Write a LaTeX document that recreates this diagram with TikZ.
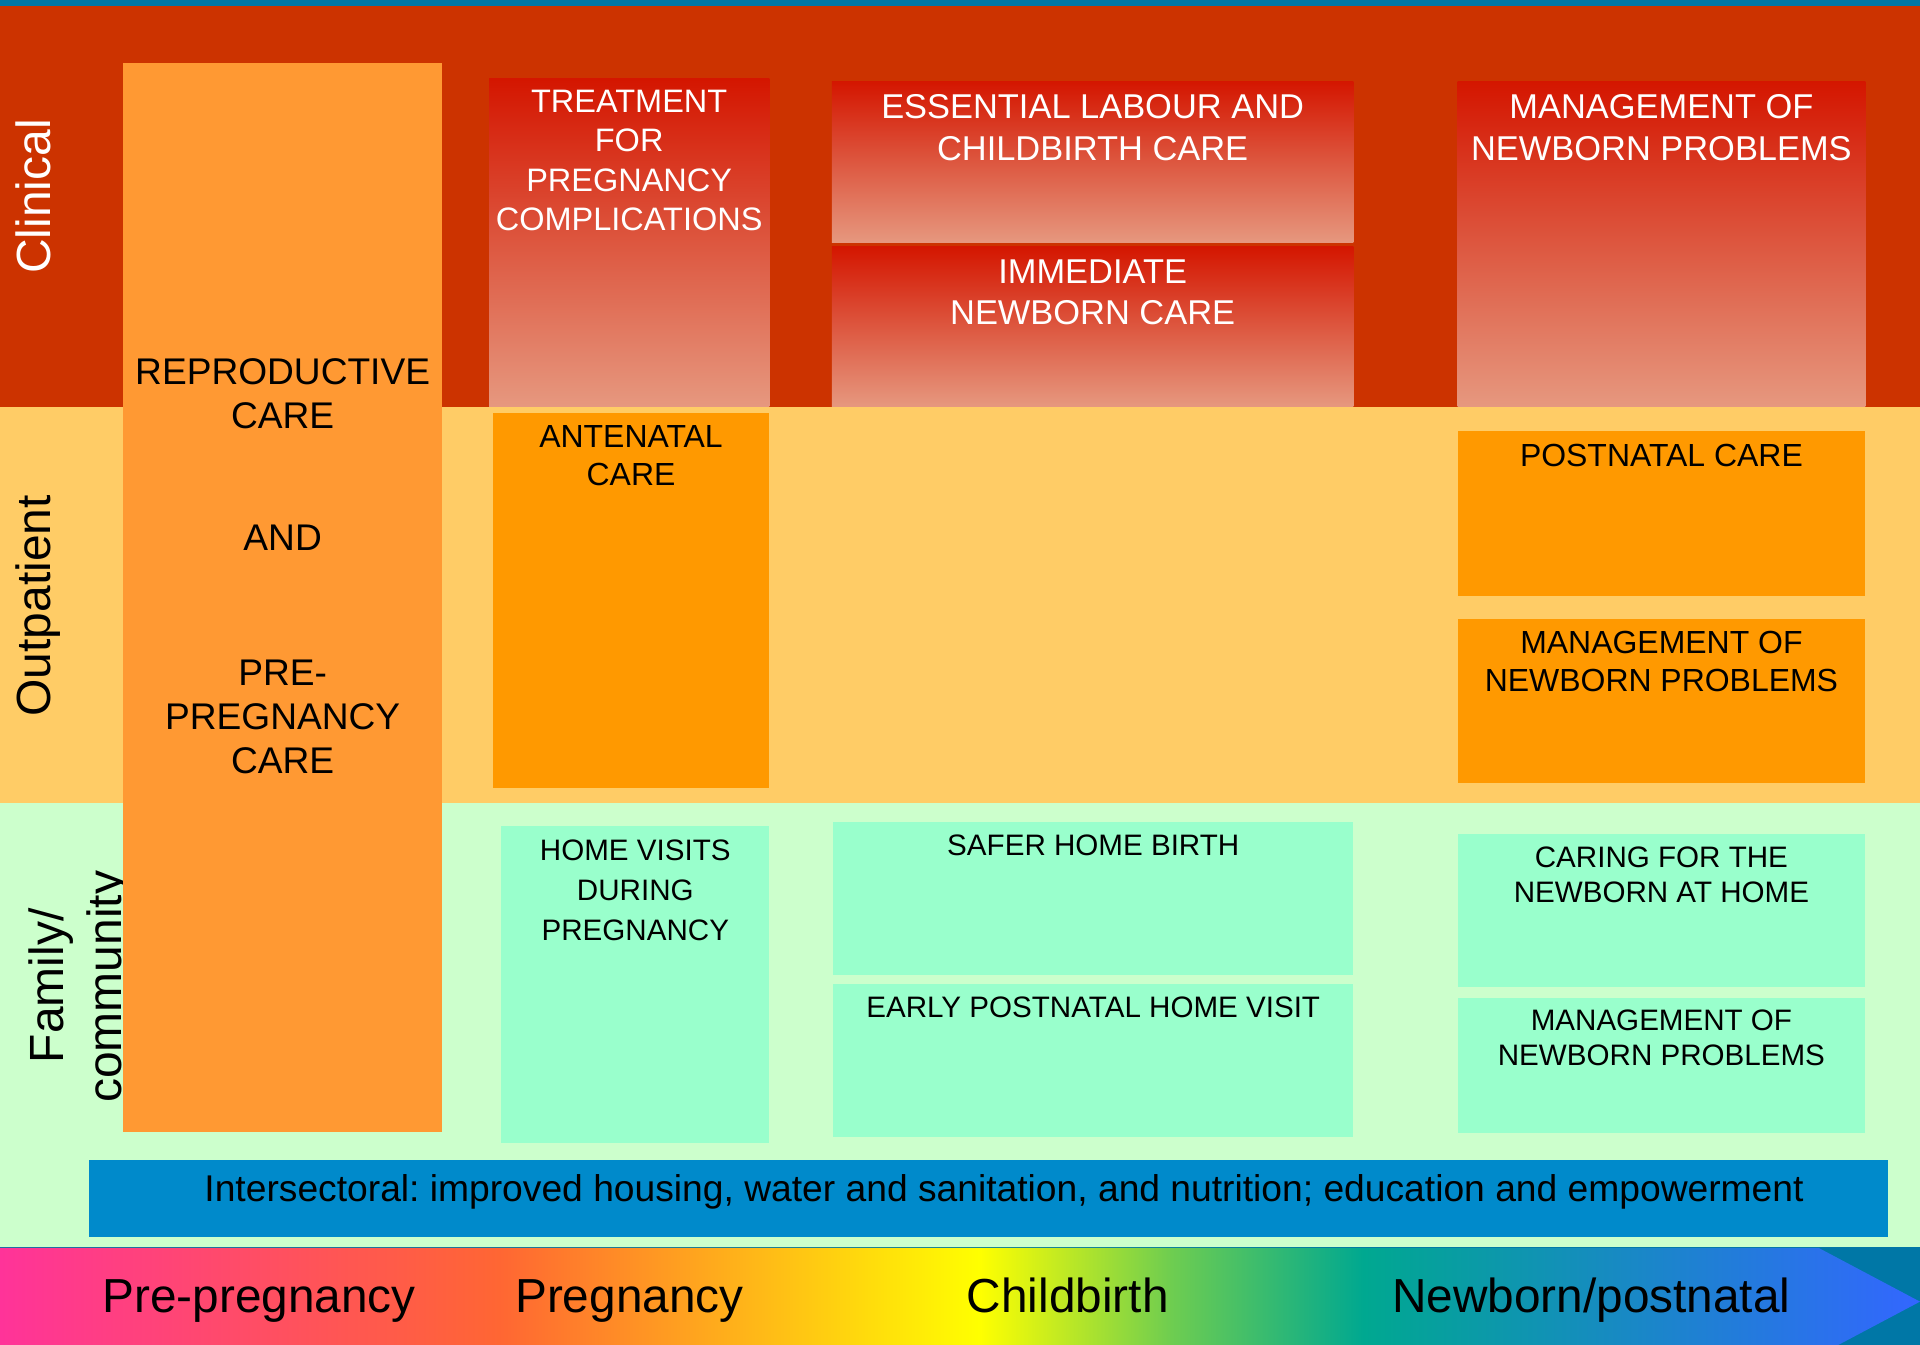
\documentclass[tikz,border=0pt]{standalone}
\usepackage{fontspec}
\setmainfont{Liberation Sans}
\usetikzlibrary{positioning}

\definecolor{slidebg}{RGB}{0,119,166}
\definecolor{clinband}{RGB}{204,51,0}
\definecolor{outband}{RGB}{255,204,102}
\definecolor{famband}{RGB}{204,255,204}
\definecolor{reproorange}{RGB}{255,153,51}
\definecolor{boxorange}{RGB}{255,153,0}
\definecolor{boxgreen}{RGB}{153,255,204}
\definecolor{redtop}{RGB}{212,22,0}
\definecolor{redbot}{RGB}{230,152,127}
\definecolor{interblue}{RGB}{0,138,203}
\definecolor{specpink}{RGB}{255,51,153}
\definecolor{specorange}{RGB}{255,102,51}
\definecolor{specyellow}{RGB}{255,255,0}
\definecolor{specgreen}{RGB}{110,205,80}
\definecolor{specteal}{RGB}{0,168,144}
\definecolor{specblue}{RGB}{51,102,255}

\pgfdeclarehorizontalshading{spectrum}{100bp}{color(0bp)=(specpink); color(25bp)=(specpink);
  color(38bp)=(specorange); color(50.5bp)=(specyellow); color(55.5bp)=(specgreen);
  color(60.5bp)=(specteal); color(75bp)=(specblue); color(100bp)=(specblue)}

\begin{document}
\begin{tikzpicture}[x=0.02cm,y=-0.02cm,
	box/.style={rectangle,draw=none,anchor=north west,inner sep=0pt},
	redbox/.style={box,top color=redtop,bottom color=redbot},
	orgbox/.style={box,fill=boxorange},
	grnbox/.style={box,fill=boxgreen},
	txt/.style={inner sep=0pt,align=center},
	redtxt/.style={txt,text=white,font=\fontsize{16pt}{19.2pt}\selectfont},
	orgtxt/.style={txt,font=\fontsize{14.85pt}{17.6pt}\selectfont},
	grntxt/.style={txt,font=\fontsize{13.75pt}{16pt}\selectfont},
	side/.style={inner sep=0pt,rotate=90,anchor=base,font=\fontsize{22.3pt}{26pt}\selectfont},
	phase/.style={inner sep=0pt,anchor=base,font=\fontsize{22.2pt}{26pt}\selectfont}]
	
	\useasboundingbox (0,0) rectangle (1568,1098);
	\clip (0,0) rectangle (1568,1098);
	
	% bands
	\fill[slidebg] (0,0) rectangle (1568,1098);
	\fill[clinband] (0,4.6) rectangle (1568,332);
	\fill[outband] (0,332) rectangle (1568,656);
	\fill[famband] (0,656) rectangle (1568,1018);
	\shade[shading=spectrum] (0,1019) -- (1485,1019) -- (1568,1063) -- (1485,1107) -- (0,1107) -- cycle;
	
	\node[side,text=white] (clin) at (41.4,160.4) {Clinical};
	\node[side] (outp) at (41.4,494.8) {Outpatient};
	\node[side] (fam) at (51.7,805) {Family/};
	\node[side] (comm) at (99.4,806) {community};
	
	% pre-pregnancy column
	\node[box,fill=reproorange,minimum width=5.22cm,minimum height=17.46cm] (repro) at (100,51) {};
	\node[txt,below=4.83cm of repro.north,font=\fontsize{17.25pt}{20.5pt}\selectfont] (reprotxt)
	{REPRODUCTIVE\\CARE\\[36pt]AND\\[42.4pt]PRE-\\PREGNANCY\\CARE};
	
	% pregnancy column
	\node[redbox,minimum width=4.58cm,minimum height=5.36cm] (treat) at (399,64) {};
	\node[redtxt,below=0.19cm of treat.north,font=\fontsize{15.1pt}{18.2pt}\selectfont] (treattxt)
	{TREATMENT\\FOR\\PREGNANCY\\COMPLICATIONS};
	\node[orgbox,minimum width=4.52cm,minimum height=6.12cm] (ante) at (402,337) {};
	\node[orgtxt,below=0.2cm of ante.north] (antetxt) {ANTENATAL\\CARE};
	\node[grnbox,minimum width=4.38cm,minimum height=5.18cm] (visit) at (409,674) {};
	\node[grntxt,below=0.23cm of visit.north,font=\fontsize{13.75pt}{18.5pt}\selectfont] (visittxt)
	{HOME VISITS\\DURING\\PREGNANCY};
	
	% childbirth column
	\node[redbox,minimum width=8.52cm,minimum height=2.64cm] (labour) at (679,66) {};
	\node[redtxt,below=0.22cm of labour.north] (labourtxt) {ESSENTIAL LABOUR AND\\CHILDBIRTH CARE};
	\node[redbox,minimum width=8.52cm,minimum height=2.62cm] (immed) at (679,201) {};
	\node[redtxt,below=0.21cm of immed.north] (immedtxt) {IMMEDIATE\\NEWBORN CARE};
	\node[grnbox,minimum width=8.5cm,minimum height=2.5cm] (safer) at (680,671) {};
	\node[grntxt,below=0.21cm of safer.north] (safertxt) {SAFER HOME BIRTH};
	\node[grnbox,minimum width=8.5cm,minimum height=2.5cm] (early) at (680,803) {};
	\node[grntxt,below=0.21cm of early.north] (earlytxt) {EARLY POSTNATAL HOME VISIT};
	
	% newborn column
	\node[redbox,minimum width=6.66cm,minimum height=5.32cm] (mgclin) at (1190,66) {};
	\node[redtxt,below=0.22cm of mgclin.north] (mgclintxt) {MANAGEMENT OF\\NEWBORN PROBLEMS};
	\node[orgbox,minimum width=6.66cm,minimum height=2.68cm] (post) at (1190,352) {};
	\node[orgtxt,below=0.2cm of post.north] (posttxt) {POSTNATAL CARE};
	\node[orgbox,minimum width=6.66cm,minimum height=2.68cm] (mgout) at (1190,505) {};
	\node[orgtxt,below=0.2cm of mgout.north] (mgouttxt) {MANAGEMENT OF\\NEWBORN PROBLEMS};
	\node[grnbox,minimum width=6.66cm,minimum height=2.5cm] (caring) at (1190,681) {};
	\node[grntxt,below=0.21cm of caring.north] (caringtxt) {CARING FOR THE\\NEWBORN AT HOME};
	\node[grnbox,minimum width=6.66cm,minimum height=2.2cm] (mgfam) at (1190,815) {};
	\node[grntxt,below=0.19cm of mgfam.north] (mgfamtxt) {MANAGEMENT OF\\NEWBORN PROBLEMS};
	
	% intersectoral bar
	\node[box,fill=interblue,minimum width=29.4cm,minimum height=1.26cm] (inter) at (72,947) {};
	\node[inner sep=0pt,anchor=base,font=\fontsize{17.3pt}{20pt}\selectfont\frenchspacing] (intertxt) at (820,981)
	{Intersectoral: improved housing, water and sanitation, and nutrition; education and empowerment};
	
	% time line
	\node[phase] (prepreg) at (211.5,1072) {Pre-pregnancy};
	\node[phase] (preg) at (514,1072) {Pregnancy};
	\node[phase] (birth) at (872,1072) {Childbirth};
	\node[phase] (newborn) at (1299.5,1072) {Newborn/postnatal};
\end{tikzpicture}
\end{document}
